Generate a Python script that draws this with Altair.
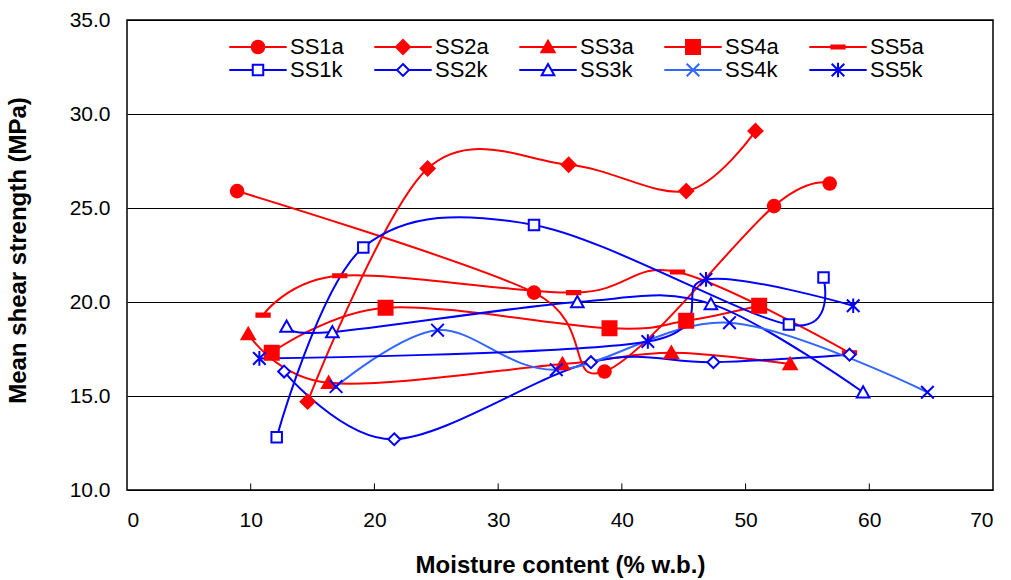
import altair as alt
import pandas as pd

series = ["SS1a", "SS2a", "SS3a", "SS4a", "SS5a", "SS1k", "SS2k", "SS3k", "SS4k", "SS5k"]

ss1a_x = [8.9, 32.9, 38.6, 52.3, 56.8]
ss1a_y = [25.9, 20.5, 16.3, 25.1, 26.3]
ss2a_x = [14.6, 24.3, 35.7, 45.2, 50.8]
ss2a_y = [14.7, 27.1, 27.3, 25.9, 29.1]
ss3a_x = [9.8, 16.3, 35.2, 44.0, 53.6]
ss3a_y = [18.3, 15.7, 16.7, 17.3, 16.7]
ss4a_x = [11.7, 20.9, 39.0, 45.2, 51.1]
ss4a_y = [17.3, 19.7, 18.6, 19.0, 19.8]
ss5a_x = [11.0, 17.2, 36.1, 44.5, 58.4]
ss5a_y = [19.3, 21.4, 20.5, 21.6, 17.3]
ss1k_x = [12.1, 19.1, 32.9, 53.5, 56.3]
ss1k_y = [12.8, 22.9, 24.1, 18.8, 21.3]
ss2k_x = [12.7, 21.6, 37.5, 47.4, 58.4]
ss2k_y = [16.3, 12.7, 16.8, 16.8, 17.2]
ss3k_x = [12.9, 16.6, 36.4, 47.2, 59.5]
ss3k_y = [18.7, 18.4, 20.0, 19.9, 15.2]
ss4k_x = [16.9, 25.1, 34.7, 48.7, 64.7]
ss4k_y = [15.5, 18.5, 16.4, 18.9, 15.2]
ss5k_x = [10.7, 42.1, 46.8, 58.7]
ss5k_y = [17.0, 17.9, 21.2, 19.8]

x_ticks = [0, 10, 20, 30, 40, 50, 60, 70]
y_ticks = [10, 15, 20, 25, 30, 35]
inner_ticks = [10, 20, 30, 40, 50, 60]

xs = [ss1a_x, ss2a_x, ss3a_x, ss4a_x, ss5a_x, ss1k_x, ss2k_x, ss3k_x, ss4k_x, ss5k_x]
ys = [ss1a_y, ss2a_y, ss3a_y, ss4a_y, ss5a_y, ss1k_y, ss2k_y, ss3k_y, ss4k_y, ss5k_y]

rows = []
for name, xv, yv in zip(series, xs, ys):
    for i, (a, b) in enumerate(zip(xv, yv)):
        rows.append({"series": name, "x": a, "y": b, "idx": i})
df = pd.DataFrame(rows)
ticks_df = pd.DataFrame({"t": inner_ticks})

RED = "#FF0000"
BLUE = "#0000FF"
LBLUE = "#3366FF"

line_colors = [RED] * 5 + [BLUE] * 3 + [LBLUE, BLUE]
marker_strokes = [RED] * 5 + [BLUE] * 5
legend_strokes = [RED] * 5 + [BLUE] * 3 + [LBLUE, BLUE]
fills = [RED] * 5 + ["white"] * 5

circle = "M-0.9,0A0.9,0.9,0,1,1,0.9,0A0.9,0.9,0,1,1,-0.9,0Z"
diamond = "M0,-1.0L1.0,0L0,1.0L-1.0,0Z"
tri = "M0,-0.9L0.95,0.75L-0.95,0.75Z"
square = "M-1.0,-1.0L1.0,-1.0L1.0,1.0L-1.0,1.0Z"
dash = "M-0.95,-0.22L0.95,-0.22L0.95,0.22L-0.95,0.22Z"
osquare = "M-0.75,-0.75L0.75,-0.75L0.75,0.75L-0.75,0.75Z"
odiamond = "M0,-0.85L0.85,0L0,0.85L-0.85,0Z"
otri = "M0,-0.85L0.9,0.75L-0.9,0.75Z"
xmark = "M-0.9,-0.9L0.9,0.9M-0.9,0.9L0.9,-0.9"
star = "M-0.9,-0.9L0.9,0.9M-0.9,0.9L0.9,-0.9M0,-1.05L0,1.05"
marker_paths = [circle, diamond, tri, square, dash, osquare, odiamond, otri, xmark, star]

L = 4.1
full = f"M-{L},0L{L},0"
legend_paths = [
    full + circle,
    full + diamond,
    full + tri,
    full + square,
    full + dash,
    f"M-{L},0L-0.75,0M0.75,0L{L},0" + osquare,
    f"M-{L},0L-0.85,0M0.85,0L{L},0" + odiamond,
    f"M-{L},0L-0.48,0M0.48,0L{L},0" + otri,
    full + xmark,
    full + star,
]

# legend is laid out column by column with 2 rows: interleave so rows read a / k
order = [0, 5, 1, 6, 2, 7, 3, 8, 4, 9]
leg_domain = [series[i] for i in order]
leg_paths = [legend_paths[i] for i in order]
leg_fills = [fills[i] for i in order]
leg_strokes = [legend_strokes[i] for i in order]

FONT = "Liberation Sans"

x_enc = alt.X("x:Q", scale=alt.Scale(domain=[0, 70], nice=False, zero=False),
              axis=alt.Axis(values=x_ticks, format="d", grid=False, ticks=False, domain=False,
                            labelFontSize=21, labelPadding=19, labelFont=FONT, labelColor="black",
                            title="Moisture content (% w.b.)", titleFont=FONT, titleFontSize=24,
                            titleFontWeight="bold", titleColor="black",
                            titleX=433, titleY=75, titleBaseline="middle"))
y_enc = alt.Y("y:Q", scale=alt.Scale(domain=[10, 35], nice=False, zero=False),
              axis=alt.Axis(values=y_ticks, format=".1f", grid=True, gridColor="black", gridWidth=1,
                            ticks=False, domain=False,
                            labelFontSize=21, labelPadding=17, labelFont=FONT, labelColor="black",
                            title="Mean shear strength (MPa)", titleFont=FONT, titleFontSize=24,
                            titleFontWeight="bold", titleColor="black",
                            titleX=-109, titleY=230, titleBaseline="middle", titleAngle=270))

lines = alt.Chart(df).mark_line(interpolate="cardinal", strokeWidth=2).encode(
    x=x_enc,
    y=y_enc,
    stroke=alt.Stroke("series:N", scale=alt.Scale(domain=series, range=line_colors), legend=None),
    order=alt.Order("idx:Q"),
)

points = alt.Chart(df).mark_point(size=196, strokeWidth=2, opacity=1).encode(
    x=alt.X("x:Q"),
    y=alt.Y("y:Q"),
    shape=alt.Shape("series:N", scale=alt.Scale(domain=series, range=marker_paths), legend=None),
    fill=alt.Fill("series:N", scale=alt.Scale(domain=series, range=fills), legend=None),
    stroke=alt.Stroke("series:N", scale=alt.Scale(domain=series, range=marker_strokes), legend=None),
)

leg = dict(title=None, orient="none", legendX=120, legendY=16, columns=5, columnPadding=26,
           rowPadding=0, padding=0, symbolSize=196, symbolStrokeWidth=2, labelFontSize=22,
           labelFont=FONT, labelColor="black", labelOffset=21, symbolOffset=0)

legend_layer = alt.Chart(df).transform_filter("false").mark_point(size=196, strokeWidth=2, opacity=1).encode(
    shape=alt.Shape("series:N", scale=alt.Scale(domain=leg_domain, range=leg_paths), legend=alt.Legend(**leg)),
    fill=alt.Fill("series:N", scale=alt.Scale(domain=leg_domain, range=leg_fills), legend=alt.Legend(**leg)),
    stroke=alt.Stroke("series:N", scale=alt.Scale(domain=leg_domain, range=leg_strokes), legend=alt.Legend(**leg)),
)

tick_marks = alt.Chart(ticks_df).mark_rule(color="black", strokeWidth=1).encode(
    x=alt.X("t:Q"),
    y=alt.datum(10),
    y2=alt.datum(10.35),
)

chart = alt.layer(lines, points, tick_marks, legend_layer).resolve_scale(
    shape="independent", fill="independent", stroke="independent"
).properties(
    width=866, height=470,
    padding={"left": 127, "top": 20, "right": 18, "bottom": 90},
    autosize=alt.AutoSizeParams(type="none"),
    background="white",
).configure_view(stroke="black", strokeWidth=1.5)

chart.save("out.html", embed_options={"renderer": "svg", "actions": False})
